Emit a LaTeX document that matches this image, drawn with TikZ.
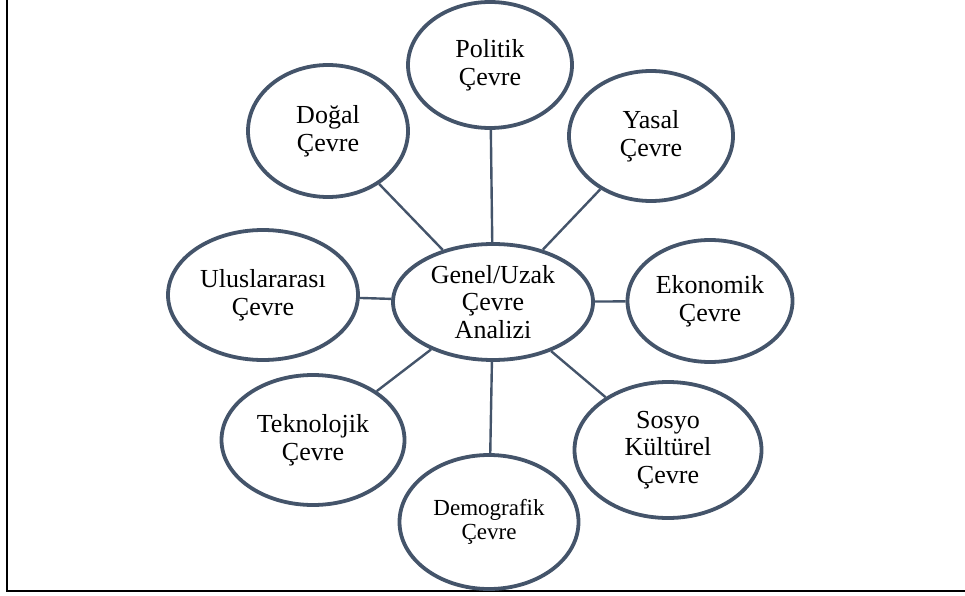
\documentclass[tikz,border=0pt]{standalone}
\usepackage{fontspec}
\setmainfont{Liberation Serif}
\usetikzlibrary{shapes.geometric}
\definecolor{slate}{HTML}{44546A}
\tikzset{
  oval/.style={ellipse, draw=slate, line width=3.8pt, fill=white, inner sep=0pt,
    align=center, font=\fontsize{26}{27.5}\selectfont, text=black},
  link/.style={draw=slate, line width=2.4pt},
  frame/.style={draw=black, line width=1.6pt}
}
\begin{document}
\begin{tikzpicture}[x=1pt,y=-1pt]
\useasboundingbox (0,0) rectangle (965,596);
% outer frame (left and bottom edges)
\coordinate (ftop) at (7,-10);
\coordinate (fcorner) at (7,591);
\coordinate (fright) at (980,591);
\draw[frame] (ftop) -- (fcorner) -- (fright);

% hub
\node[oval, minimum width=200pt, minimum height=116pt] (cen) at (493,302) {Genel/Uzak\\Çevre\\Analizi};

% surrounding environments
\node[oval, minimum width=164pt, minimum height=126pt] (pol) at (490,65) {Politik\\Çevre};
\node[oval, minimum width=160pt, minimum height=132pt] (dog) at (328,131) {Doğal\\Çevre};
\node[oval, minimum width=164pt, minimum height=130pt] (yas) at (651,136) {Yasal\\Çevre};
\node[oval, minimum width=165pt, minimum height=122pt] (eko) at (710,301) {Ekonomik\\Çevre};
\node[oval, minimum width=190pt, minimum height=130pt] (ulu) at (263,295) {Uluslararası\\Çevre};
\node[oval, minimum width=183pt, minimum height=130pt] (tek) at (313,440) {Teknolojik\\Çevre};
\node[oval, minimum width=179pt, minimum height=134pt, font=\fontsize{23}{23.5}\selectfont] (dem) at (489,522) {Demografik\\Çevre};
\node[oval, minimum width=187pt, minimum height=136pt] (sos) at (668,450) {Sosyo\\Kültürel\\Çevre};

% spokes
\foreach \n in {pol,dog,yas,eko,ulu,tek,dem,sos}
  \draw[link] (cen) -- (\n);
\end{tikzpicture}
\end{document}
